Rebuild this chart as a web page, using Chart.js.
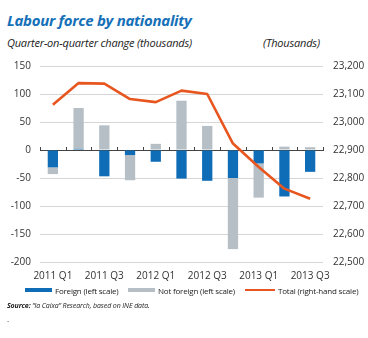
<!DOCTYPE html>
<html>
<head>
<meta charset="utf-8">
<script src="https://cdn.jsdelivr.net/npm/chart.js@4.4.0/dist/chart.umd.min.js"></script>
<style>
  html, body { margin: 0; padding: 0; background: #fff; }
  body { width: 368px; height: 338px; position: relative; overflow: hidden; font-family: "Open Sans", sans-serif; color: #222; }
  .abs { position: absolute; white-space: nowrap; }
  #title { left: 7px; top: 10px; font-size: 15px; font-weight: 700; font-style: italic; color: #1570b8; letter-spacing: -0.3px; }
  #subL { left: 7px; top: 35px; font-size: 11px; font-style: italic; letter-spacing: -0.2px; }
  #subR { left: 263px; top: 35px; font-size: 11px; font-style: italic; letter-spacing: -0.2px; }
  #chartBox { left: 0; top: 50px; width: 368px; height: 240px; }
  .lg { top: 284px; height: 12px; font-size: 8px; letter-spacing: -0.2px; display: flex; align-items: center; }
  .sw { display: inline-block; width: 27px; margin-right: 3px; }
  #source { left: 7px; top: 301px; font-size: 7px; font-style: italic; letter-spacing: -0.1px; }
  #dot { left: 7px; top: 313px; font-size: 8px; }
</style>
</head>
<body>
<div class="abs" id="title">Labour force by nationality</div>
<div class="abs" id="subL">Quarter-on-quarter change (thousands)</div>
<div class="abs" id="subR">(Thousands)</div>
<div class="abs" id="chartBox"><canvas id="laborChart" width="368" height="240"></canvas></div>
<div id="legend"></div>
<div class="abs" id="source"><b>Source:</b> “la Caixa” Research, based on INE data.</div>
<div class="abs" id="dot">.</div>

<script>
const quarters = ['2011 Q1', '2011 Q2', '2011 Q3', '2011 Q4', '2012 Q1', '2012 Q2',
                  '2012 Q3', '2012 Q4', '2013 Q1', '2013 Q2', '2013 Q3'];
// quarter-on-quarter change, thousands (left scale)
const foreign    = [-31, 2, -47, -9, -21, -51, -55, -50, -24, -83, -39];
const notForeign = [-12, 73, 44, -45, 11, 88, 43, -127, -61, 6, 5];
// total labour force, thousands (right scale)
const total = [23062, 23139, 23137, 23082, 23071, 23112, 23100, 22923, 22839, 22762, 22726];

const leftTicks = [150, 100, 50, 0, -50, -100, -150, -200];
const rightTicks = [23200, 23100, 23000, 22900, 22800, 22700, 22600, 22500];

const BLUE = '#0f6cb6';
const GREY = '#b5bfc5';
const ORANGE = '#e8561f';

// small tick marks on the zero line between quarters
const zeroTicks = {
  id: 'zeroTicks',
  afterDatasetsDraw(chart) {
    const x = chart.scales.x, y = chart.scales.y;
    const y0 = y.getPixelForValue(0);
    const ctx = chart.ctx;
    ctx.save();
    ctx.strokeStyle = '#444';
    ctx.lineWidth = 1;
    ctx.beginPath();
    for (let i = 0; i <= quarters.length; i++) {
      const px = Math.round(x.left + (x.right - x.left) * i / quarters.length) + 0.5;
      ctx.moveTo(px, y0 - 3);
      ctx.lineTo(px, y0 + 1);
    }
    ctx.stroke();
    ctx.restore();
  }
};

const tickFont = { family: 'Open Sans', size: 10 };

const chart = new Chart(document.getElementById('laborChart'), {
  data: {
    labels: quarters,
    datasets: [
      { type: 'line', label: 'Total (right-hand scale)', data: total, yAxisID: 'y1',
        borderColor: ORANGE, borderWidth: 2.6, pointRadius: 0, tension: 0,
        borderJoinStyle: 'round', borderCapStyle: 'butt', order: 0 },
      { type: 'bar', label: 'Foreign (left scale)', data: foreign, yAxisID: 'y',
        backgroundColor: BLUE, barPercentage: 0.4, categoryPercentage: 1, stack: 's', order: 1 },
      { type: 'bar', label: 'Not foreign (left scale)', data: notForeign, yAxisID: 'y',
        backgroundColor: GREY, barPercentage: 0.4, categoryPercentage: 1, stack: 's', order: 2 }
    ]
  },
  options: {
    responsive: false,
    animation: false,
    layout: { padding: { top: 16, left: 0, right: 0, bottom: 0 } },
    plugins: { legend: { display: false }, tooltip: { enabled: false } },
    scales: {
      x: {
        stacked: true,
        grid: { display: false },
        border: { display: false },
        ticks: {
          autoSkip: false, maxRotation: 0, padding: 0, color: '#333', font: tickFont,
          callback: (v, i) => (i % 2 === 0 ? quarters[i] : '')
        },
        afterFit: s => { s.height = 28; }
      },
      y: {
        stacked: true,
        position: 'left',
        min: -200, max: 150,
        afterBuildTicks: s => { s.ticks = leftTicks.map(v => ({ value: v })); },
        grid: {
          color: c => (c.tick && c.tick.value === 0 ? '#444' : '#d6d6d6'),
          lineWidth: 1, drawTicks: false
        },
        border: { display: false },
        ticks: { color: '#333', font: tickFont, padding: 9 },
        afterFit: s => { s.width = 40; }
      },
      y1: {
        position: 'right',
        min: 22500, max: 23200,
        afterBuildTicks: s => { s.ticks = rightTicks.map(v => ({ value: v })); },
        grid: { display: false, drawTicks: false },
        border: { display: false },
        ticks: { color: '#333', font: tickFont, padding: 10, callback: v => v.toLocaleString('en-US') },
        afterFit: s => { s.width = 45; }
      }
    }
  },
  plugins: [zeroTicks]
});

// legend built from the datasets
const legendSpots = [
  { ds: 1, left: 25, h: 4 },
  { ds: 2, left: 128, h: 4 },
  { ds: 0, left: 245, h: 2.6 }
];
const legend = document.getElementById('legend');
legendSpots.forEach(spot => {
  const d = chart.data.datasets[spot.ds];
  const item = document.createElement('div');
  item.className = 'abs lg';
  item.style.left = spot.left + 'px';
  const sw = document.createElement('span');
  sw.className = 'sw';
  sw.style.height = spot.h + 'px';
  sw.style.background = d.type === 'line' ? d.borderColor : d.backgroundColor;
  if (d.type === 'line') sw.style.width = '30px';
  item.appendChild(sw);
  item.appendChild(document.createTextNode(d.label));
  legend.appendChild(item);
});
</script>
</body>
</html>
